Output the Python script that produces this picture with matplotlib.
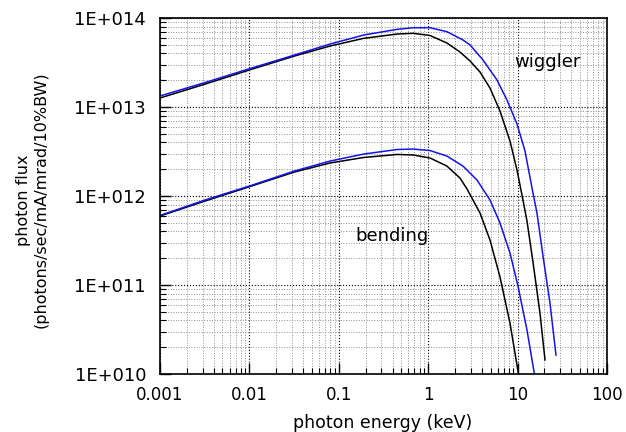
import matplotlib
matplotlib.use("Agg")
import matplotlib.pyplot as plt
from matplotlib.ticker import FixedLocator, LogLocator, NullFormatter

plt.rcParams['font.family'] = ['DejaVu Sans']

# photon energy (keV) / flux
wig_black_e = [0.001, 0.0032, 0.01, 0.032, 0.08, 0.19, 0.45, 0.68, 1.05, 1.62, 2.27, 2.94,
               3.80, 4.91, 6.36, 8.22, 9.85, 11.2, 12.74, 14.87, 17.81, 20.26]
wig_black_f = [1.262e13, 1.811e13, 2.606e13, 3.742e13, 4.846e13, 5.912e13, 6.607e13, 6.732e13,
               6.358e13, 5.236e13, 4.150e13, 3.289e13, 2.472e13, 1.633e13, 9.01e12, 4.15e12,
               1.96e12, 1.026e12, 5.24e11, 1.81e11, 4.84e10, 1.44e10]

wig_blue_e = [0.001, 0.0032, 0.01, 0.032, 0.08, 0.19, 0.45, 0.68, 1.05, 1.62, 2.45, 2.94,
              4.10, 5.89, 7.61, 9.85, 12.10, 14.87, 16.48, 19.24, 23.04, 26.89]
wig_blue_f = [1.330e13, 1.884e13, 2.69e13, 3.84e13, 5.10e13, 6.44e13, 7.46e13, 7.78e13,
              7.78e13, 7.02e13, 5.66e13, 4.98e13, 3.38e13, 2.01e13, 1.199e13, 6.44e12,
              3.21e12, 1.08e12, 6.44e11, 2.12e11, 6.28e10, 1.63e10]

bend_black_e = [0.001, 0.0032, 0.01, 0.032, 0.08, 0.19, 0.45, 0.68, 1.05, 1.62, 2.27, 2.72,
                3.80, 4.91, 6.36, 8.22, 10.2]
bend_black_f = [5.96e11, 8.79e11, 1.271e12, 1.862e12, 2.35e12, 2.71e12, 2.93e12, 2.89e12,
                2.67e12, 2.17e12, 1.59e12, 1.199e12, 6.44e11, 3.21e11, 1.23e11, 3.74e10, 1.02e10]

bend_blue_e = [0.001, 0.0032, 0.01, 0.032, 0.08, 0.19, 0.45, 0.68, 1.05, 1.62, 2.45, 3.52,
               4.91, 6.36, 8.22, 10.1, 12.74, 15.38]
bend_blue_f = [6.04e11, 9.02e11, 1.294e12, 1.91e12, 2.47e12, 2.96e12, 3.33e12, 3.37e12,
               3.24e12, 2.81e12, 2.17e12, 1.51e12, 9.02e11, 4.98e11, 2.29e11, 9.75e10,
               3.12e10, 1.02e10]

x_ticks = [0.001, 0.01, 0.1, 1, 10, 100]
x_labels = ['0.001', '0.01', '0.1', '1', '10', '100']
y_ticks = [1e10, 1e11, 1e12, 1e13, 1e14]
y_labels = ['1E+010', '1E+011', '1E+012', '1E+013', '1E+014']

fig = plt.figure(figsize=(6.26, 4.32), dpi=100)
ax = fig.add_axes([0.2556, 0.1343, 0.714, 0.8240])

ax.set_xscale('log')
ax.set_yscale('log')
ax.set_xlim(0.001, 100)
ax.set_ylim(1e10, 1e14)

blue = '#1414e6'
ax.plot(wig_black_e, wig_black_f, color='black', lw=1.1)
ax.plot(wig_blue_e, wig_blue_f, color=blue, lw=1.1)
ax.plot(bend_black_e, bend_black_f, color='black', lw=1.1)
ax.plot(bend_blue_e, bend_blue_f, color=blue, lw=1.1)

ax.xaxis.set_major_locator(FixedLocator(x_ticks))
ax.set_xticklabels(x_labels, fontsize=12)
ax.yaxis.set_major_locator(FixedLocator(y_ticks))
ax.set_yticklabels(y_labels, fontsize=13)
ax.xaxis.set_minor_locator(LogLocator(base=10, subs=range(2, 10), numticks=20))
ax.xaxis.set_minor_formatter(NullFormatter())
ax.yaxis.set_minor_locator(LogLocator(base=10, subs=range(2, 10), numticks=20))
ax.yaxis.set_minor_formatter(NullFormatter())

ax.grid(which='major', color='black', linestyle=':', lw=0.8)
ax.grid(which='minor', color='#8c8c8c', linestyle=':', lw=0.7)
ax.set_axisbelow(True)

ax.tick_params(which='major', direction='in', length=8, width=1)
ax.tick_params(axis='x', which='major', pad=9)
ax.tick_params(axis='y', which='major', pad=10)
ax.tick_params(which='minor', direction='in', length=4, width=0.8)
for s in ax.spines.values():
    s.set_linewidth(1.2)

fig.text(547 / 626, 1 - 62 / 432, 'wiggler', fontsize=13, ha='center', va='center')
fig.text(392 / 626, 1 - 236 / 432, 'bending', fontsize=13, ha='center', va='center')

fig.text(383 / 626, 1 - 423 / 432, 'photon energy (keV)', fontsize=12.5, ha='center', va='center')
fig.text(32 / 626, 1 - 200 / 432, 'photon flux\n(photons/sec/mA/mrad/10%BW)', fontsize=11.5,
         ha='center', va='center', rotation=90, multialignment='center')

fig.savefig('out.png', dpi=100)
